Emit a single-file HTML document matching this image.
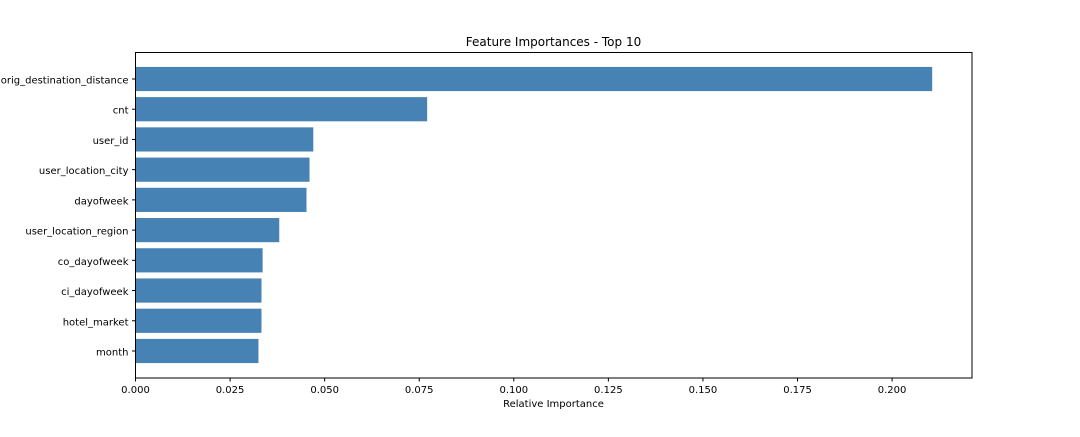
<!DOCTYPE html>
<html><head><meta charset="utf-8"><style>
body{margin:0;background:#fff;}
svg text{font-family:"DejaVu Sans","Liberation Sans",sans-serif;fill:#000;}
</style></head><body>
<svg id="chart" width="1080" height="432" xmlns="http://www.w3.org/2000/svg">
<text x="553.5" y="46" text-anchor="middle" font-size="12">Feature Importances - Top 10</text>
<g id="bars"></g>
<g id="yaxis"></g>
<g id="xaxis"></g>
<rect x="135.5" y="52.5" width="836.5" height="325.5" fill="none" stroke="#000" stroke-width="1"/>
<text x="553.5" y="407" text-anchor="middle" font-size="10">Relative Importance</text>
</svg>
<script>
const categories=["orig_destination_distance","cnt","user_id","user_location_city","dayofweek","user_location_region","co_dayofweek","ci_dayofweek","hotel_market","month"];
const values=[0.2106,0.0771,0.0470,0.0460,0.0452,0.0380,0.0336,0.0333,0.0333,0.0325];
const xTicks=[0,0.025,0.05,0.075,0.1,0.125,0.15,0.175,0.2];
const xTickLabels=["0.000","0.025","0.050","0.075","0.100","0.125","0.150","0.175","0.200"];
const NS="http://www.w3.org/2000/svg";
const x0=135.5,xScale=3783;
const xPos=v=>x0+v*xScale;
const step=30.22,yFirst=79;
const yPos=i=>yFirst+i*step;
const bars=document.getElementById('bars'),ya=document.getElementById('yaxis'),xa=document.getElementById('xaxis');
categories.forEach((c,i)=>{
 const r=document.createElementNS(NS,'rect');
 
 
 const h=step*0.8;
 r.setAttribute('x',x0);r.setAttribute('y',yPos(i)-h/2);
 r.setAttribute('width',xPos(values[i])-x0);r.setAttribute('height',h);
 r.setAttribute('fill','#4682b4');bars.appendChild(r);
 const t=document.createElementNS(NS,'line');
 
 
 t.setAttribute('x1',x0-3.5);t.setAttribute('x2',x0);t.setAttribute('y1',yPos(i));t.setAttribute('y2',yPos(i));t.setAttribute('stroke','#000');ya.appendChild(t);
 const l=document.createElementNS(NS,'text');
 
 
 l.setAttribute('x',x0-7);l.setAttribute('y',yPos(i)+4.5);l.setAttribute('text-anchor','end');l.setAttribute('font-size','10');l.textContent=c;ya.appendChild(l);
});
xTicks.forEach((v,i)=>{
 const t=document.createElementNS(NS,'line');
 
 
 t.setAttribute('x1',xPos(v));t.setAttribute('x2',xPos(v));t.setAttribute('y1',378);t.setAttribute('y2',381.5);t.setAttribute('stroke','#000');xa.appendChild(t);
 const l=document.createElementNS(NS,'text');
 
 
 l.setAttribute('x',xPos(v));l.setAttribute('y',393);l.setAttribute('text-anchor','middle');l.setAttribute('font-size','10');l.textContent=xTickLabels[i];xa.appendChild(l);
});
</script>
</body></html>
